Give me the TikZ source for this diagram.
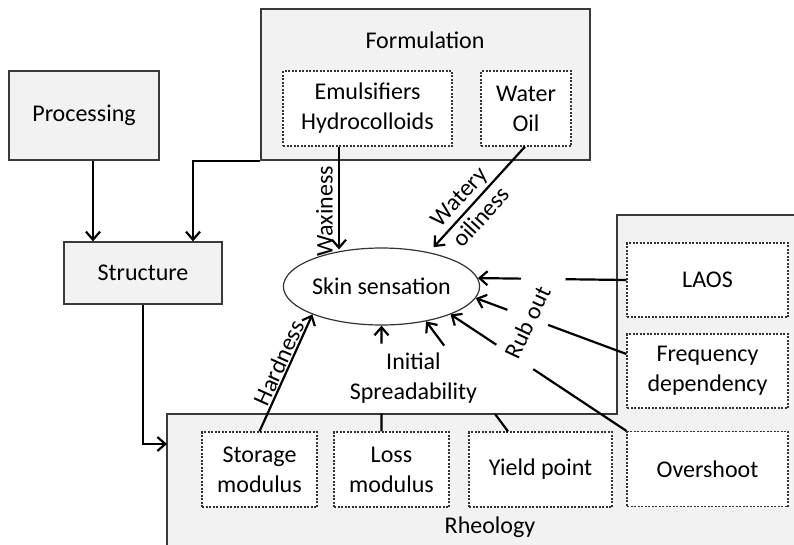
\documentclass[tikz,border=0pt]{standalone}
\usepackage{fontspec}
\setmainfont{Carlito}
\usepackage{tikz}
\usetikzlibrary{arrows.meta, shapes.geometric, calc}
\definecolor{panel}{HTML}{F2F2F2}
\definecolor{edge}{HTML}{3A3A3A}
\tikzset{
  box/.style={rectangle, draw=edge, line width=1.3pt, fill=panel, inner sep=0pt, align=center},
  dbox/.style={rectangle, draw=black!80, dash pattern=on 2pt off 1.5pt, line width=1.2pt,
    fill=white, inner sep=0pt, align=center},
  arrowline/.style={-{Straight Barb[length=8pt, width=14pt]}, line width=2.2pt},
  plainline/.style={line width=2.2pt},
  lbl/.style={inner sep=1pt, align=center}
}

\begin{document}
\begin{tikzpicture}[x=1pt, y=-1pt, font=\fontsize{24}{30}\selectfont]
  \clip (0,0) rectangle (794,544);
  % rheology panel
  \fill[panel] (167,414) -- (617,414) -- (617,215) -- (800,215) -- (800,550) -- (167,550) -- cycle;
  \draw[edge, line width=1.2pt] (167,550) -- (167,414) -- (617,414) -- (617,215) -- (800,215);
  \node[lbl] (rheotitle) at (490,527) {Rheology};

  \node[box, minimum width=150pt, minimum height=89pt] (proc) at (84,115.5) {Processing};
  \node[box, minimum width=158pt, minimum height=62pt] (struct) at (143,273) {Structure};
  \node[box, minimum width=329pt, minimum height=151pt] (form) at (425.5,84.5) {};
  \node[lbl] (formtitle) at (425,40) {Formulation};
  \node[dbox, minimum width=169pt, minimum height=75pt] (emul) at (367.5,108.5) {Emulsifiers\\Hydrocolloids};
  \node[dbox, minimum width=90pt, minimum height=75pt] (water) at (526,108.5) {Water\\Oil};
  \node[ellipse, draw=black!80, line width=1.2pt, fill=white, inner sep=0pt,
    minimum width=193pt, minimum height=77pt] (skin) at (381.5,286.5) {Skin sensation};

  \node[dbox, minimum width=115pt, minimum height=75pt] (storage) at (259.5,469.5) {Storage\\modulus};
  \node[dbox, minimum width=115pt, minimum height=75pt] (loss) at (391.5,469.5) {Loss\\modulus};
  \node[dbox, minimum width=143pt, minimum height=75pt] (yield) at (540.5,469.5) {Yield point};
  \node[dbox, minimum width=161pt, minimum height=75pt] (over) at (707.5,469) {Overshoot};
  \node[dbox, minimum width=161pt, minimum height=74pt] (laos) at (707.5,280) {LAOS};
  \node[dbox, minimum width=161pt, minimum height=74pt] (freq) at (707.5,371) {Frequency\\dependency};

  \coordinate (rheoin) at (167,444);
  \coordinate (fw) at ($(freq.west)+(0,-17)$);
  \coordinate (lt) at ([xshift=-10pt]loss.north);
  \coordinate (yt) at ([xshift=-32.5pt]yield.north);

  \draw[arrowline] ([xshift=9pt]proc.south) -- ([xshift=9pt]proc.south |- struct.north);
  \draw[arrowline] (form.south west) -| ([xshift=50pt]struct.north);
  \draw[arrowline] (struct.south) |- (rheoin);

  \draw[arrowline] ([xshift=-28.5pt]emul.south) -- ([xshift=-28.5pt,yshift=-2pt]emul.south |- skin.north)
    node[lbl, rotate=90, anchor=south, pos=0.63, inner sep=5pt] {Waxiness};
  \draw[arrowline] ([xshift=-1pt]water.south) -- ([shift={(10,-4)}]skin.40)
    node[lbl, sloped, pos=0.6] {Watery\\oiliness};
  \draw[arrowline] (storage.north) -- (skin.202)
    node[lbl, sloped, above, pos=0.55] {Hardness};

  % rheology to skin
  \draw[plainline] (lt) -- ($(lt)!0.17!(skin.south)$);
  \draw[arrowline] ($(lt)!0.83!(skin.south)$) -- (skin.south);
  \node[lbl] (spread) at ($(lt)!0.5!(skin.south)+(32,0)$) {Initial\\Spreadability};
  \draw[plainline] (yt) -- ($(yt)!0.16!(skin.322)$);
  \draw[arrowline] ($(yt)!0.78!(skin.322)$) -- (skin.322);
  \draw[plainline] (over.north west) -- ($(over.north west)!0.53!(skin.338)$);
  \draw[arrowline] ($(over.north west)!0.74!(skin.338)$) -- (skin.338);
  \draw[plainline] (fw) -- ($(fw)!0.52!(skin.353)$);
  \draw[arrowline] ($(fw)!0.79!(skin.353)$) -- (skin.353);
  \draw[plainline] (laos.west) -- ($(laos.west)!0.41!(skin.5)$);
  \draw[arrowline] ($(laos.west)!0.71!(skin.5)$) -- (skin.5);
  \node[lbl, rotate=65] (rubout) at ($(fw)!0.655!(skin.353)+(0,5)$) {Rub out};
\end{tikzpicture}
\end{document}
